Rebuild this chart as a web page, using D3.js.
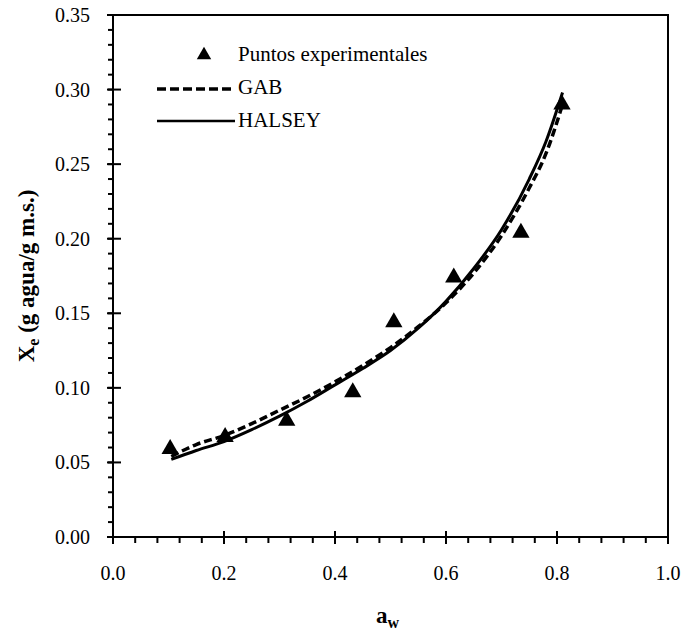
<!DOCTYPE html>
<html>
<head>
<meta charset="utf-8">
<script src="https://cdn.jsdelivr.net/npm/d3@7"></script>
<style>
  body { margin: 0; background: #fff; }
  svg text { font-family: "Liberation Serif", "Times New Roman", serif; fill: #000; }
  .tick-label { font-size: 20px; }
  .axis-title { font-size: 23px; font-weight: bold; }
  .legend-text { font-size: 21px; }
</style>
</head>
<body>
<svg id="chart" width="684" height="637"></svg>
<script>
// experimental points
var expAw = [0.103, 0.202, 0.313, 0.432, 0.506, 0.614, 0.735, 0.809];
var expXe = [0.059, 0.067, 0.078, 0.097, 0.144, 0.174, 0.204, 0.290];

// model curves
var gabAw = [0.105, 0.15, 0.2, 0.25, 0.3, 0.35, 0.4, 0.45, 0.5, 0.55, 0.6, 0.65, 0.7, 0.75, 0.78, 0.81];
var gabXe = [0.054, 0.062, 0.068, 0.076, 0.085, 0.094, 0.104, 0.115, 0.127, 0.141, 0.157, 0.177, 0.202, 0.234, 0.257, 0.290];
var halseyAw = [0.105, 0.15, 0.2, 0.25, 0.3, 0.35, 0.4, 0.45, 0.5, 0.55, 0.6, 0.65, 0.7, 0.75, 0.78, 0.81];
var halseyXe = [0.052, 0.058, 0.064, 0.072, 0.081, 0.091, 0.102, 0.113, 0.125, 0.140, 0.158, 0.180, 0.206, 0.240, 0.265, 0.298];

var xTicks = [0.0, 0.2, 0.4, 0.6, 0.8, 1.0];
var yTicks = [0.00, 0.05, 0.10, 0.15, 0.20, 0.25, 0.30, 0.35];
var legendLabels = ["Puntos experimentales", "GAB", "HALSEY"];

var svg = d3.select("#chart");
var plot = {left: 113, right: 668, top: 15, bottom: 537};

var x = d3.scaleLinear().domain([0, 1]).range([plot.left, plot.right]);
var y = d3.scaleLinear().domain([0, 0.35]).range([plot.bottom, plot.top]);

// frame
svg.append("rect")
    .attr("x", plot.left).attr("y", plot.top)
    .attr("width", plot.right - plot.left).attr("height", plot.bottom - plot.top)
    .attr("fill", "none").attr("stroke", "#000").attr("stroke-width", 2);

// minor ticks
var xMinor = d3.range(0, 1.0001, 0.04);
var yMinor = d3.range(0, 0.3501, 0.01);
svg.append("g").selectAll("line").data(xMinor).join("line")
    .attr("x1", d => x(d)).attr("x2", d => x(d))
    .attr("y1", plot.bottom).attr("y2", plot.bottom + 6)
    .attr("stroke", "#000").attr("stroke-width", 2);
svg.append("g").selectAll("line").data(yMinor).join("line")
    .attr("x1", plot.left - 5).attr("x2", plot.left)
    .attr("y1", d => y(d)).attr("y2", d => y(d))
    .attr("stroke", "#000").attr("stroke-width", 2);

// major ticks cross the axis
svg.append("g").selectAll("line").data(xTicks).join("line")
    .attr("x1", d => x(d)).attr("x2", d => x(d))
    .attr("y1", plot.bottom - 6).attr("y2", plot.bottom + 7)
    .attr("stroke", "#000").attr("stroke-width", 2);
svg.append("g").selectAll("line").data(yTicks).join("line")
    .attr("x1", plot.left - 6).attr("x2", plot.left + 8)
    .attr("y1", d => y(d)).attr("y2", d => y(d))
    .attr("stroke", "#000").attr("stroke-width", 2);

// tick labels
svg.append("g").selectAll("text").data(xTicks).join("text")
    .attr("class", "tick-label")
    .attr("x", d => x(d)).attr("y", 580)
    .attr("text-anchor", "middle")
    .text(d => d3.format(".1f")(d));
svg.append("g").selectAll("text").data(yTicks).join("text")
    .attr("class", "tick-label")
    .attr("x", 90).attr("y", d => y(d) + 7)
    .attr("text-anchor", "end")
    .text(d => d3.format(".2f")(d));

// axis titles
var xt = svg.append("text").attr("class", "axis-title")
    .attr("x", (plot.left + plot.right) / 2 - 3).attr("y", 623)
    .attr("text-anchor", "middle");
xt.append("tspan").text("a");
xt.append("tspan").attr("dy", 5).style("font-size", "16px").text("w");

var yt = svg.append("text").attr("class", "axis-title")
    .attr("transform", "translate(34," + ((plot.top + plot.bottom) / 2) + ") rotate(-90)")
    .attr("text-anchor", "middle");
yt.append("tspan").text("X");
yt.append("tspan").attr("dy", 5).style("font-size", "16px").text("e");
yt.append("tspan").attr("dy", -5).text(" (g agua/g m.s.)");

// curves
var line = d3.line().x(d => x(d[0])).y(d => y(d[1])).curve(d3.curveMonotoneX);
var gab = d3.zip(gabAw, gabXe);
var halsey = d3.zip(halseyAw, halseyXe);

svg.append("path").datum(halsey)
    .attr("d", line)
    .attr("fill", "none").attr("stroke", "#000").attr("stroke-width", 3);
svg.append("path").datum(gab)
    .attr("d", line)
    .attr("fill", "none").attr("stroke", "#000").attr("stroke-width", 3.5)
    .attr("stroke-dasharray", "8,4");

// triangles
var tri = d3.symbol().type(d3.symbolTriangle).size(130);
svg.append("g").selectAll("path").data(d3.zip(expAw, expXe)).join("path")
    .attr("d", tri)
    .attr("transform", d => "translate(" + x(d[0]) + "," + y(d[1]) + ")")
    .attr("fill", "#000");

// legend
var lg = svg.append("g");
lg.append("path").attr("d", d3.symbol().type(d3.symbolTriangle).size(90))
    .attr("transform", "translate(204,55)").attr("fill", "#000");
lg.append("line").attr("x1", 157).attr("x2", 233).attr("y1", 89).attr("y2", 89)
    .attr("stroke", "#000").attr("stroke-width", 3.5).attr("stroke-dasharray", "9,4");
lg.append("line").attr("x1", 157).attr("x2", 235).attr("y1", 121).attr("y2", 121)
    .attr("stroke", "#000").attr("stroke-width", 2.5);
lg.selectAll("text").data(legendLabels).join("text")
    .attr("class", "legend-text")
    .attr("x", 238)
    .attr("y", (d, i) => 61 + i * 33)
    .text(d => d);
</script>
</body>
</html>
